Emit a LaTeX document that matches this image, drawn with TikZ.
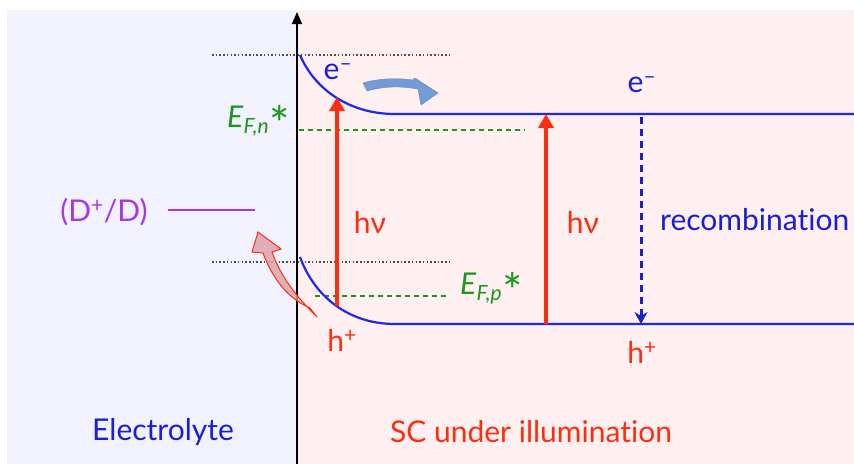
\documentclass[tikz,border=0pt]{standalone}
\usepackage{fontspec}
\setmainfont[Ligatures={NoCommon,NoRare}]{Lato}
\usetikzlibrary{arrows.meta}
\definecolor{bgL}{RGB}{242,242,254}
\definecolor{bgR}{RGB}{254,240,240}
\definecolor{band}{RGB}{30,40,235}
\definecolor{hvred}{RGB}{255,45,15}
\definecolor{fgreen}{RGB}{30,150,30}
\definecolor{purp}{RGB}{165,55,230}
\definecolor{txtblue}{RGB}{25,30,215}
\definecolor{arrblue}{RGB}{115,155,215}
\definecolor{arrred}{RGB}{215,160,165}
\newcommand{\bigast}{\raisebox{-14pt}{\scalebox{1.6}{*}}}
\tikzset{
  bandline/.style={draw=band, line width=2.2pt},
  dotline/.style={draw=black!70, line width=1.3pt, dash pattern=on 1.5pt off 2.2pt},
  fermi/.style={draw=fgreen, line width=1.6pt, dash pattern=on 5pt off 4pt},
  photon/.style={draw=hvred, line width=4pt, -{Triangle[length=14pt,width=15pt]}},
  lbl/.style={inner sep=0pt, font=\fontsize{30}{34}\selectfont},
}
\begin{document}
\begin{tikzpicture}[x=1pt,y=-1pt]
\useasboundingbox (0,0) rectangle (854,464);
\fill[white] (0,0) rectangle (854,464);
\fill[bgL] (7,10) rectangle (297,464);
\fill[bgR] (297,10) rectangle (854,464);
% dotted reference lines
\coordinate (d1a) at (212,55); \coordinate (d1b) at (452,55);
\coordinate (d2a) at (212,262); \coordinate (d2b) at (452,262);
\draw[dotline] (d1a) -- (d1b);
\draw[dotline] (d2a) -- (d2b);
% axis
\coordinate (ax0) at (297,464); \coordinate (ax1) at (297,12);
\draw[line width=1.6pt, -{Triangle[length=12pt,width=10pt]}] (ax0) -- (ax1);
% Fermi levels
\coordinate (fn0) at (299,130); \coordinate (fn1) at (525,130);
\draw[fermi] (fn0) -- (fn1);
\coordinate (fp0) at (315,296); \coordinate (fp1) at (450,296);
\draw[fermi] (fp0) -- (fp1);
% bands
\coordinate (cb0) at (300,55); \coordinate (cb1) at (395,114); \coordinate (cb2) at (854,114);
\draw[bandline] (cb0) .. controls (315,90) and (350,114) .. (cb1) -- (cb2);
\coordinate (vb0) at (300,257); \coordinate (vb1) at (395,324); \coordinate (vb2) at (854,324);
\draw[bandline] (vb0) .. controls (315,298) and (350,324) .. (vb1) -- (vb2);
% photons
\coordinate (p1a) at (337,306); \coordinate (p1b) at (337,97);
\draw[photon] (p1a) -- (p1b);
\coordinate (p2a) at (546,324); \coordinate (p2b) at (546,114);
\draw[photon] (p2a) -- (p2b);
% recombination
\coordinate (r0) at (641,117); \coordinate (r1) at (641,324);
\draw[draw=band!85!black, line width=3pt, dash pattern=on 7pt off 5pt, -{Stealth[length=12pt,width=13pt,inset=4pt]}] (r0) -- (r1);
% redox
\coordinate (rx0) at (168,210); \coordinate (rx1) at (255,210);
\draw[draw=purp, line width=2pt] (rx0) -- (rx1);
% blue curved arrow
\fill[arrblue, draw=arrblue!85!black, line width=0.4pt]
  (363,83) .. controls (380,78) and (398,78) .. (413,80)
  -- (415,78) -- (438,93) -- (421,105) -- (418,89)
  .. controls (400,86) and (385,86) .. (367,91) -- cycle;
% red curved arrow
\fill[arrred, fill opacity=0.8, draw=hvred, line width=1pt]
  (317,317) .. controls (300,300) and (282,280) .. (272,252)
  -- (281,249) -- (258,232) -- (252,252) -- (263,253)
  .. controls (275,285) and (292,300) .. (310,308) -- cycle;
% labels
\node[lbl, text=txtblue] (em1) at (338,72) {e\textsuperscript{–}};
\node[lbl, text=txtblue] (em2) at (642,85) {e\textsuperscript{–}};
\node[lbl, text=hvred] (hp1) at (342,340) {h\textsuperscript{+}};
\node[lbl, text=hvred] (hp2) at (642,352) {h\textsuperscript{+}};
\node[lbl, text=hvred] (hv1) at (370,222) {hν};
\node[lbl, text=hvred] (hv2) at (583,222) {hν};
\node[lbl, text=txtblue, anchor=west] (rec) at (660,220) {recombination};
\node[lbl, text=purp] (dd) at (104,212) {(D\textsuperscript{+}/D)};
\node[lbl, text=fgreen, anchor=west] (efn) at (227,123) {\textit{E}\textsubscript{\textit{F,n}}\bigast};
\node[lbl, text=fgreen, anchor=west] (efp) at (460,290) {\textit{E}\textsubscript{\textit{F,p}}\bigast};
\node[lbl, text=txtblue] (el) at (163,432) {Electrolyte};
\node[lbl, text=hvred] (sc) at (531,432) {SC under illumination};
\end{tikzpicture}
\end{document}
